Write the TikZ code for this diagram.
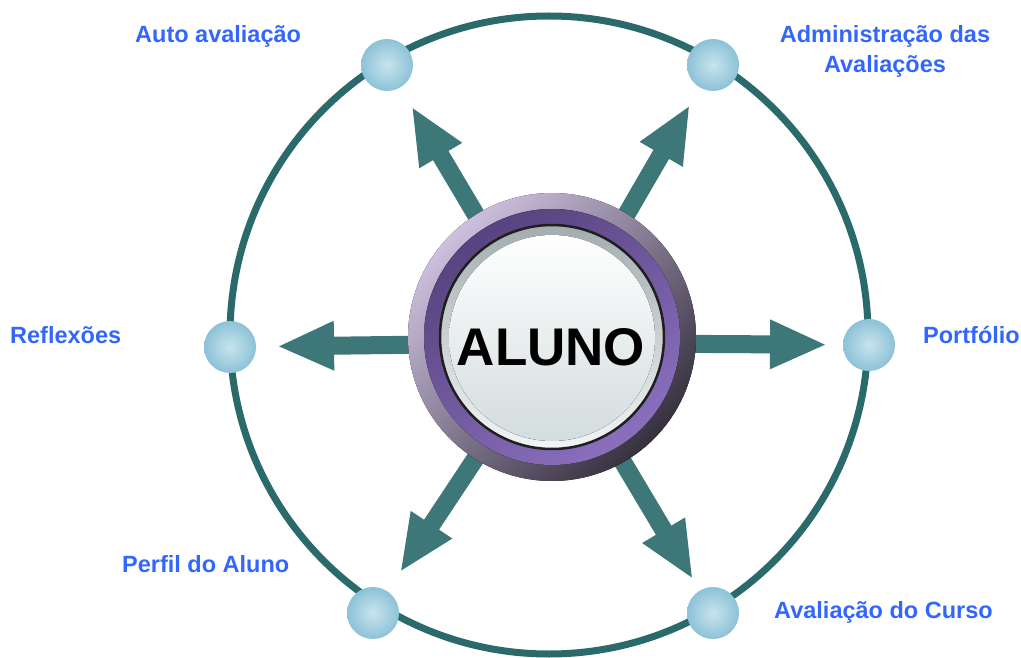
\documentclass[tikz,border=0pt]{standalone}
\usepackage{fontspec}
\setmainfont{Liberation Sans}
\usetikzlibrary{calc}
\definecolor{ringc}{HTML}{2B6A6B}
\definecolor{arrc}{HTML}{3E7778}
\definecolor{lblc}{HTML}{3366FF}
\definecolor{dotin}{HTML}{C8E4EE}
\definecolor{dotout}{HTML}{8CC2D7}
\definecolor{rimA}{HTML}{CDC0DE}
\definecolor{rimB}{HTML}{7863A6}
\definecolor{rimC}{HTML}{36303F}
\definecolor{midA}{HTML}{57437F}
\definecolor{midB}{HTML}{8A6FBD}
\definecolor{faceRimA}{HTML}{A3ADB0}
\definecolor{faceRimB}{HTML}{F2F5F5}
\definecolor{faceA}{HTML}{FFFFFF}
\definecolor{faceB}{HTML}{D3DCDE}
\tikzset{
  lbl/.style={text=lblc, font=\fontsize{23.5}{28}\selectfont\bfseries, inner sep=0pt},
  dotnode/.style={circle, minimum size=52pt, inner sep=0pt, shading=radial, inner color=dotin, outer color=dotout},
}
\newcommand{\blockarrow}[2]{%
  \coordinate (bs) at ($(#1)!100pt!(#2.center)$);
  \coordinate (bb) at ($(#1)!218pt!(#2.center)$);
  \coordinate (bt) at ($(#1)!273pt!(#2.center)$);
  \fill[arrc] ($(bs)!9pt!90:(#2.center)$) -- ($(bb)!9pt!90:(#2.center)$) -- ($(bb)!25pt!90:(#2.center)$) -- (bt)
     -- ($(bb)!25pt!-90:(#2.center)$) -- ($(bb)!9pt!-90:(#2.center)$) -- ($(bs)!9pt!-90:(#2.center)$) -- cycle;}
\begin{document}
\begin{tikzpicture}[x=1pt, y=-1pt]
\useasboundingbox (0,0) rectangle (1021,658);
% outer ring
\coordinate (rc) at (549,335);
\draw[ringc, line width=7pt] (rc) circle (319pt);
% dots
\node[dotnode] (dAuto) at (387,65) {};
\node[dotnode] (dAdm) at (713,65) {};
\node[dotnode] (dRef) at (230,347) {};
\node[dotnode] (dPort) at (869,345) {};
\node[dotnode] (dPerf) at (373,613) {};
\node[dotnode] (dCurso) at (713,613) {};
% arrows
\coordinate (hub) at (552,343);
\blockarrow{hub}{dAuto}
\blockarrow{hub}{dAdm}
\blockarrow{hub}{dRef}
\blockarrow{hub}{dPort}
\blockarrow{hub}{dPerf}
\blockarrow{hub}{dCurso}
% center button
\coordinate (ac) at (552,337);
\fill[top color=rimA, middle color=rimB, bottom color=rimC, shading angle=45] (ac) circle (144pt);
\fill[top color=midA, bottom color=midB, shading angle=35] (ac) circle (128pt);
\filldraw[draw=black!88, line width=2.5pt, top color=faceRimA, bottom color=faceRimB] (ac) circle (112pt);
\fill[top color=faceA, bottom color=faceB] ($(ac)+(0,1)$) circle (103pt);
\node[font=\fontsize{53}{60}\selectfont\bfseries, inner sep=0pt, anchor=base] (aluno) at (551,365) {ALUNO};
% labels
\node[lbl, anchor=base west] (lAuto) at (135,43) {Auto avaliação};
\node[lbl, anchor=base] (lAdm1) at (885,43) {Administração das};
\node[lbl, anchor=base] (lAdm2) at (885,73) {Avaliações};
\node[lbl, anchor=base west] (lRef) at (10,343) {Reflexões};
\node[lbl, anchor=base west] (lPort) at (923,343) {Portfólio};
\node[lbl, anchor=base west] (lPerf) at (122,572) {Perfil do Aluno};
\node[lbl, anchor=base west] (lCurso) at (774,618) {Avaliação do Curso};
\end{tikzpicture}
\end{document}
